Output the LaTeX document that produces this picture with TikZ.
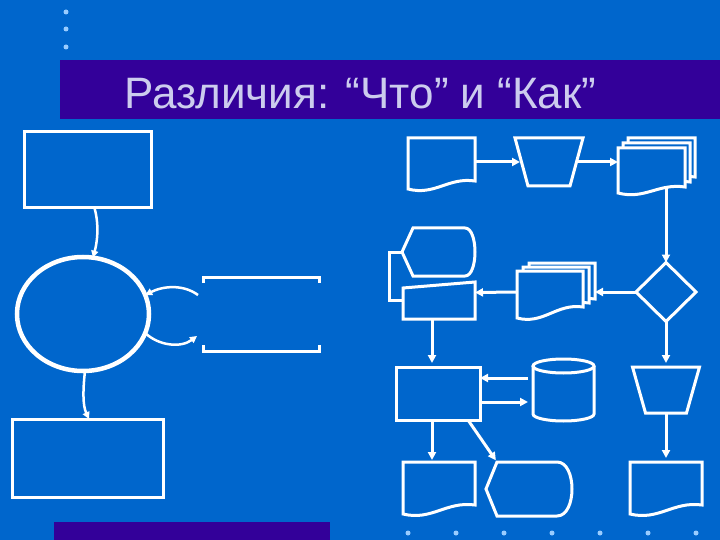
\documentclass[tikz,border=0pt]{standalone}
\usepackage{fontspec}
\setmainfont{Liberation Sans}
\usepackage{tikz}
\usetikzlibrary{shapes.geometric, arrows.meta, positioning, calc}

\definecolor{bgblue}{HTML}{0066CC}
\definecolor{barpurple}{HTML}{330099}
\definecolor{titlelilac}{HTML}{CCCCEE}
\definecolor{dotblue}{HTML}{99CCFF}

\tikzset{
  shapeline/.style={draw=white, line width=3pt, fill=bgblue},
  link/.style={draw=white, line width=3pt},
  box/.style={shapeline, inner sep=0pt, outer sep=0pt},
  slot/.style={inner sep=0pt, outer sep=0pt},
  flow/.style={link, -{Triangle[length=8pt,width=8pt]}},
  flowthin/.style={draw=white, line width=2.5pt, -{Triangle[length=7pt,width=7pt]}},
  titletext/.style={text=titlelilac, font=\fontsize{44pt}{52pt}\selectfont, inner sep=0pt}
}

% document: node, right drop, left drop
\newcommand{\docshape}[3]{%
  \draw[shapeline] (#1.north west) -- (#1.north east) -- ($(#1.south east)+(0,-#2)$)
    .. controls ($(#1.south east)!0.4!(#1.south west)+(0,-#2-4)$)
    and ($(#1.south east)!0.6!(#1.south west)+(0,#3+7)$)
    .. ($(#1.south west)+(0,#3)$) -- cycle;}
% stack of documents: node, dx, dy, right drop, left drop
\newcommand{\multidoc}[5]{%
  \begin{scope}[transform canvas={shift={({2*#2pt},{2*#3pt})}}]\docshape{#1}{#4}{#5}\end{scope}
  \begin{scope}[transform canvas={shift={({#2pt},{#3pt})}}]\docshape{#1}{#4}{#5}\end{scope}
  \docshape{#1}{#4}{#5}}
% manual operation: node, inset
\newcommand{\trapshape}[2]{%
  \draw[shapeline] (#1.north west) -- (#1.north east) -- ($(#1.south east)+(-#2,0)$)
    -- ($(#1.south west)+(#2,0)$) -- cycle;}
% display: node, inset, bulge
\newcommand{\dispshape}[3]{%
  \draw[shapeline] (#1.west) -- ($(#1.north west)+(#2,0)$) -- ($(#1.north east)+(-#3,0)$)
    .. controls ($(#1.north east)+(#3/3,0)$) and ($(#1.south east)+(#3/3,0)$)
    .. ($(#1.south east)+(-#3,0)$) -- ($(#1.south west)+(#2,0)$) -- cycle;}

\begin{document}
\begin{tikzpicture}[x=1pt, y=-1pt]
  \useasboundingbox (0,0) rectangle (720,540);
  \fill[bgblue] (0,0) rectangle (720,540);
  % bullets and bars
  \foreach \y in {12,29,47} \fill[dotblue] (66,\y) circle[radius=2.5pt];
  \foreach \x in {408,456,...,696} \fill[dotblue] (\x,533) circle[radius=2.5pt];
  \fill[barpurple] (60,60) rectangle (720,119);
  \fill[barpurple] (54,522) rectangle (330,540);
  \node[titletext, anchor=base west] (title) at (124,109) {Различия: “Что” и “Как”};

  % left: data flow
  \node[box, minimum width=127pt, minimum height=76pt] (spec) at (87.5,170) {};
  \node[box, ellipse, line width=4.5pt, minimum width=132pt, minimum height=114pt] (proc) at (83,314) {};
  \node[box, minimum width=151pt, minimum height=78pt] (out) at (87.5,458) {};
  \node[slot, minimum width=116pt, minimum height=74pt] (store) at (261,314) {};
  \draw[link] ($(store.north west)+(0,6)$) -- (store.north west) -- (store.north east) -- ++(0,6);
  \draw[link] ($(store.south west)+(0,-6)$) -- (store.south west) -- (store.south east) -- ++(0,-6);
  \draw[flowthin] ($(spec.south)+(7,0)$) .. controls ($(spec.south)+(12,18)$) and ($(proc.north)+(14,-14)$) .. (proc.80);
  \draw[flowthin] (proc.272) .. controls ($(proc.south)+(0,18)$) and ($(out.north)+(-5,-14)$) .. ($(out.north)+(1.5,0)$);
  \draw[flowthin] ($(store.west)+(-5,-19)$) .. controls ($(store.west)+(-20,-30)$) and ($(proc.east)+(14,-28)$) .. (proc.17);
  \draw[flowthin] (proc.-17) .. controls ($(proc.east)+(10,32)$) and ($(store.west)+(-22,34)$) .. ($(store.west)+(-6,22)$);

  % right: flowchart
  \node[slot, minimum width=67pt, minimum height=48pt] (input) at (441.5,162) {};
  \node[slot, minimum width=68pt, minimum height=48pt] (op) at (549,162) {};
  \node[slot, minimum width=67pt, minimum height=42pt] (report) at (651.5,169) {};
  \node[box, diamond, minimum width=60pt, minimum height=59pt] (dec) at (666,292) {};
  \node[slot, minimum width=66pt, minimum height=42pt] (report2) at (550,292) {};
  \node[slot, minimum width=72pt, minimum height=37pt] (man) at (439,300.5) {};
  \node[slot, minimum width=73pt, minimum height=48pt] (disp) at (438.5,252) {};
  \node[box, minimum width=84pt, minimum height=53pt] (task) at (438,393.5) {};
  \node[slot, minimum width=61pt, minimum height=62pt] (db) at (563.5,390) {};
  \node[slot, minimum width=72pt, minimum height=48pt] (out2) at (439,486) {};
  \node[slot, minimum width=86pt, minimum height=54pt] (disp2) at (529,489) {};
  \node[slot, minimum width=67pt, minimum height=46pt] (op2) at (666,390) {};
  \node[slot, minimum width=72pt, minimum height=48pt] (out3) at (666,486) {};

  \docshape{input}{5}{3}
  \trapshape{op}{13}
  \multidoc{report}{5}{5}{3}{3}
  \multidoc{report2}{6}{4}{6}{5}
  \draw[shapeline] ($(man.north west)+(0,6)$) -- (man.north east) -- (man.south east) -- (man.south west) -- cycle;
  \dispshape{disp}{11}{10}
  \draw[shapeline] ($(db.north west)+(0,7)$) -- ($(db.south west)+(0,-7)$)
    arc[start angle=180, end angle=0, x radius=30.5, y radius=7] -- ($(db.north east)+(0,7)$);
  \draw[shapeline] ($(db.north)+(0,7)$) ellipse[x radius=30.5, y radius=7];
  \docshape{out2}{5}{4}
  \dispshape{disp2}{11}{15}
  \trapshape{op2}{13}
  \docshape{out3}{5}{4}

  \draw[flow] (input.east) -- ($(op.west)+(5,0)$);
  \draw[flow] ($(op.east)+(-6,0)$) -- ($(report.west)+(0,-7)$);
  \draw[flow] ($(report.south)+(14.5,-2)$) -- (dec.north);
  \draw[flow] (dec.west) -- ($(report2.east)+(12,0)$);
  \draw[flow] (report2.west) -- ($(man.east)+(0,-8)$);
  \draw[link] (disp.west) -- ++(-13,0) |- (man.west);
  \draw[flow, shorten >=4pt] ($(man.south)+(-7,0)$) -- ($(task.north)+(-6,0)$);
  \draw[flow] ($(db.west)+(-5,-12)$) -- ($(task.east)+(0,-15.5)$);
  \draw[flow] ($(task.east)+(0,8.5)$) -- ($(db.west)+(-5,12)$);
  \draw[flow, shorten >=2pt] ($(task.south)+(-6,0)$) -- ($(out2.north)+(-7,0)$);
  \draw[flow, shorten >=2pt] ($(task.south east)+(-12,0)$) -- ($(disp2.north west)+(11,0)$);
  \draw[flow, shorten >=4pt] (dec.south) -- (op2.north);
  \draw[flow, shorten >=4pt] (op2.south) -- (out3.north);
\end{tikzpicture}
\end{document}
